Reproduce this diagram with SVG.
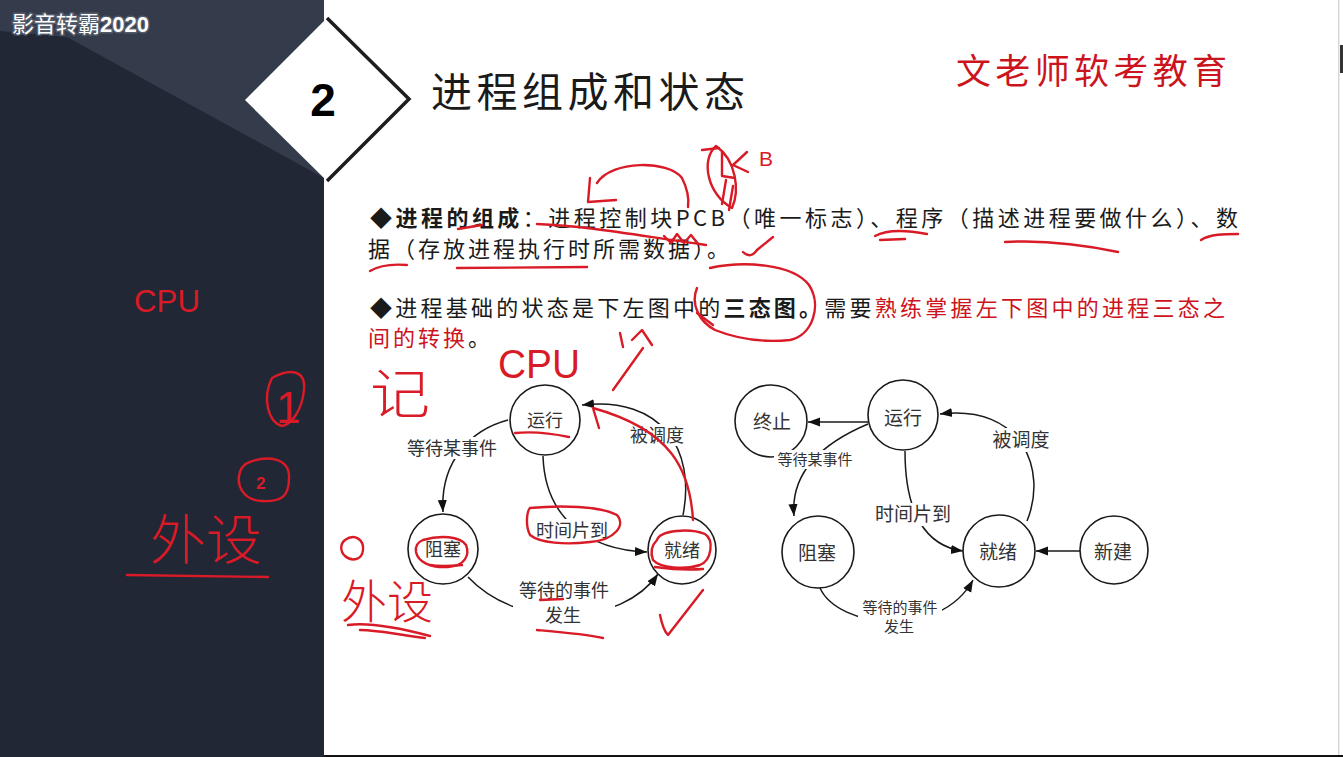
<svg xmlns="http://www.w3.org/2000/svg" width="1343" height="757" viewBox="0 0 1343 757">
  <style>
    .cjk { font-family: "Noto Sans CJK SC", "Liberation Sans", sans-serif; }
    .body { font-size: 22px; fill: #1a1a1a; }
    .red { fill: #cc141d; }
    .node circle { fill: #ffffff; stroke: #1a1a1a; stroke-width: 1.6; }
    .node text { font-family: "Noto Sans CJK SC", "Liberation Serif", serif; fill: #333333; text-anchor: middle; }
    .edge { fill: none; stroke: #1a1a1a; stroke-width: 1.5; marker-end: url(#ah); }
    .lbl { font-family: "Noto Sans CJK SC", "Liberation Serif", serif; fill: #333333; text-anchor: middle; }
    .lblbg { fill: #ffffff; }
    .ink { fill: none; stroke: #d81b26; stroke-width: 2.4; stroke-linecap: round; stroke-linejoin: round; }
    .inktext { fill: #d81b26; font-family: "Liberation Sans", "Noto Sans CJK SC", sans-serif; }
    .inkcjk { fill: #d81b26; font-family: "Noto Sans CJK SC", sans-serif; font-weight: 300; }
  </style>
  <defs>
    <marker id="ah" viewBox="0 0 10 10" refX="10" refY="5" markerWidth="12" markerHeight="12" markerUnits="userSpaceOnUse" orient="auto">
      <path d="M0,1.2 L10,5 L0,8.8 Z" fill="#111111"/>
    </marker>
  </defs>

  <!-- slide background -->
  <rect x="0" y="0" width="1343" height="757" fill="#ffffff"/>
  <rect x="1338" y="0" width="1.5" height="757" fill="#d8d8d8"/>
  <rect x="1340" y="45" width="3" height="28" fill="#333333"/>
  <rect x="324" y="755" width="1019" height="2" fill="#111111"/>

  <!-- dark side panel -->
  <g id="side-panel">
    <rect x="0" y="0" width="324" height="757" fill="#222735"/>
    <polygon points="0,0 324,0 324,178 67,37 0,31" fill="#343c4c"/>
    <text x="12" y="32" font-size="22" fill="#ffffff" stroke="#7a808c" stroke-width="3" stroke-opacity="0.45" paint-order="stroke" font-family="Noto Sans CJK SC, sans-serif">影音转霸<tspan font-family="Liberation Sans, sans-serif" font-weight="bold">2020</tspan></text>
  </g>

  <!-- section badge -->
  <g id="badge">
    <polygon points="245,100 327,18 409,99 327,181" fill="#ffffff"/>
    <polyline points="327,18 409,99 327,181" fill="none" stroke="#1e1e1e" stroke-width="3.5"/>
    <text x="323" y="116" font-size="46" font-weight="bold" text-anchor="middle" fill="#000000" font-family="Liberation Sans, sans-serif">2</text>
  </g>

  <!-- headings -->
  <text class="cjk" x="431" y="107" font-size="41" fill="#1a1a1a" textLength="314" lengthAdjust="spacing">进程组成和状态</text>
  <text class="cjk red" x="956" y="84" font-size="35" fill="#d8141c" textLength="271" lengthAdjust="spacing">文老师软考教育</text>

  <!-- body text -->
  <text class="cjk body" x="370" y="226" textLength="868" lengthAdjust="spacing">◆<tspan font-weight="bold">进程的组成</tspan>：进程控制块PCB（唯一标志）、程序（描述进程要做什么）、数</text>
  <text class="cjk body" x="368" y="257" letter-spacing="3">据（存放进程执行时所需数据）。</text>
  <text class="cjk body" x="370" y="316" textLength="855" lengthAdjust="spacing">◆进程基础的状态是下左图中的<tspan font-weight="bold">三态图。</tspan>需要<tspan class="red">熟练掌握左下图中的进程三态之</tspan></text>
  <text class="cjk body" x="368" y="346" letter-spacing="3"><tspan class="red">间的转换</tspan>。</text>

  <!-- three-state diagram: connectors -->
  <g id="edges-three-state">
    <path class="edge" d="M508,420 C470,430 440,462 443,512"/>
    <path class="edge" d="M543,456 C545,520 590,550 647,552"/>
    <path class="edge" d="M683,515 C696,450 662,396 582,405"/>
    <path class="edge" d="M468,577 C520,632 622,626 658,574"/>
    <rect class="lblbg" x="402" y="437" width="100" height="22"/>
    <text class="lbl" x="452" y="455" font-size="18">等待某事件</text>
    <rect class="lblbg" x="626" y="424" width="62" height="22"/>
    <text class="lbl" x="657" y="442" font-size="18">被调度</text>
    <rect class="lblbg" x="531" y="519" width="82" height="22"/>
    <text class="lbl" x="572" y="537" font-size="18">时间片到</text>
    <rect class="lblbg" x="513" y="579" width="102" height="48"/>
    <text class="lbl" x="564" y="597" font-size="18">等待的事件</text>
    <text class="lbl" x="563" y="622" font-size="18">发生</text>
  </g>

  <!-- three-state diagram: nodes -->
  <g id="l-running" class="node"><circle cx="545" cy="420" r="35"/><text x="545" y="427" font-size="18">运行</text></g>
  <g id="l-blocked" class="node"><circle cx="443" cy="549" r="35"/><text x="443" y="556" font-size="18">阻塞</text></g>
  <g id="l-ready" class="node"><circle cx="682" cy="550" r="34"/><text x="682" y="557" font-size="18">就绪</text></g>

  <!-- five-state diagram: connectors -->
  <g id="edges-five-state">
    <path class="edge" d="M868,422 L808,422"/>
    <path class="edge" d="M868,424 C830,440 790,468 794,516"/>
    <path class="edge" d="M905,451 C905,512 925,546 963,551"/>
    <path class="edge" d="M1027,521 C1048,470 1022,404 940,414"/>
    <path class="edge" d="M820,588 C838,628 940,640 973,580"/>
    <path class="edge" d="M1080,551 L1036,551"/>
  </g>

  <!-- five-state diagram: nodes -->
  <g id="r-terminated" class="node"><circle cx="771" cy="421" r="36"/><text x="772" y="429" font-size="19">终止</text></g>
  <g id="r-running" class="node"><circle cx="903" cy="415" r="35"/><text x="903" y="425" font-size="19">运行</text></g>
  <g id="r-blocked" class="node"><circle cx="818" cy="552" r="36"/><text x="817" y="560" font-size="19">阻塞</text></g>
  <g id="r-ready" class="node"><circle cx="999" cy="551" r="36"/><text x="998" y="559" font-size="19">就绪</text></g>
  <g id="r-new" class="node"><circle cx="1114" cy="550" r="34"/><text x="1113" y="559" font-size="19">新建</text></g>

  <!-- five-state diagram: edge labels -->
  <g id="labels-five-state">
    <rect class="lblbg" x="774" y="450" width="82" height="19"/>
    <text class="lbl" x="815" y="465" font-size="15">等待某事件</text>
    <rect class="lblbg" x="872" y="503" width="82" height="23"/>
    <text class="lbl" x="913" y="521" font-size="19">时间片到</text>
    <rect class="lblbg" x="990" y="428" width="62" height="24"/>
    <text class="lbl" x="1021" y="447" font-size="19">被调度</text>
    <rect class="lblbg" x="858" y="598" width="84" height="38"/>
    <text class="lbl" x="900" y="613" font-size="15">等待的事件</text>
    <text class="lbl" x="899" y="632" font-size="15">发生</text>
  </g>

  <!-- pen notes -->
  <g id="pen-notes">
    <!-- side panel -->
    <text class="inktext" x="134" y="312" font-size="32" textLength="66" lengthAdjust="spacingAndGlyphs">CPU</text>
    <path class="ink" d="M272,378 C290,368 306,370 304,390 C302,410 292,424 282,426 C268,422 262,398 272,378 Z"/>
    <text class="inktext" x="276" y="423" font-size="44">1</text>
    <path class="ink" d="M250,462 C268,455 290,458 289,478 C289,496 282,502 262,501 C242,500 236,484 240,472 C242,466 246,463 250,462"/>
    <text class="inktext" x="256" y="489" font-size="17" font-weight="bold">2</text>
    <text class="inkcjk" x="150" y="560" font-size="54" textLength="112" lengthAdjust="spacingAndGlyphs">外设</text>
    <path class="ink" d="M127,575 L268,577"/>

    <!-- text underlines and marks -->
    <path class="ink" d="M458,229 L482,225"/>
    <path class="ink" d="M537,224 C590,226 640,236 706,245"/>
    <path class="ink" d="M664,236 L671,243 L677,234 L684,243 L691,235 L698,244"/>
    <path class="ink" d="M597,183 C612,160 668,160 682,178 C688,190 689,200 688,207"/>
    <path class="ink" d="M590,178 L588,202 L616,200"/>
    <path class="ink" d="M716,146 C700,160 708,195 732,208 C740,190 736,160 716,146 Z"/>
    <path class="ink" d="M702,150 L719,148 M722,152 L722,176 L735,178 M726,180 L722,204 M733,186 L729,210"/>
    <path class="ink" d="M747,152 L733,165 L748,172"/>
    <text class="inktext" x="759" y="166" font-size="21">B</text>
    <path class="ink" d="M743,252 C748,257 753,256 757,250 L773,237"/>
    <path class="ink" d="M875,236 C886,230 906,230 927,234 M880,240 L905,239"/>
    <path class="ink" d="M1005,242 C1040,240 1080,244 1118,252"/>
    <path class="ink" d="M1201,240 C1210,234 1225,234 1238,234"/>
    <path class="ink" d="M370,271 C380,265 395,264 407,265"/>
    <path class="ink" d="M457,268 L587,267"/>
    <path class="ink" d="M710,268 C742,261 792,263 809,285 C822,305 813,335 790,340 C760,343 735,338 715,330 C700,322 690,305 697,288"/>
    <path class="ink" d="M697,313 L713,325"/>
    <path class="ink" d="M620,333 L623,347 M632,340 L642,330 L652,345 M613,390 L643,348"/>

    <!-- state diagram marks -->
    <text class="inktext" x="498" y="378" font-size="40" textLength="82" lengthAdjust="spacingAndGlyphs">CPU</text>
    <text class="inkcjk" x="370" y="414" font-size="54" textLength="60" lengthAdjust="spacingAndGlyphs">记</text>
    <path class="ink" d="M515,433 C535,431 555,434 569,437"/>
    <path class="ink" d="M693,520 C690,470 672,430 593,408 M593,408 L599,428"/>
    <path class="ink" d="M530,508 C560,505 600,506 617,515 C626,525 615,540 590,542 C565,545 540,543 530,535 C525,525 527,511 530,508"/>
    <path class="ink" d="M657,540 C660,530 690,528 705,534 C714,540 712,560 700,565 C685,570 660,568 653,560 C650,552 652,545 657,540"/>
    <path class="ink" d="M655,567 C670,569 690,570 703,569"/>
    <path class="ink" d="M423,540 C440,535 460,536 466,545 C470,555 465,566 448,567 C430,568 418,562 416,552 C415,546 418,542 423,540"/>
    <path class="ink" d="M430,565 C440,567 452,566 462,565"/>
    <path class="ink" d="M345,540 C355,533 364,540 363,550 C362,560 352,562 345,556 C340,551 340,544 345,540"/>
    <text class="inkcjk" x="341" y="618" font-size="46" textLength="92" lengthAdjust="spacingAndGlyphs">外设</text>
    <path class="ink" d="M348,625 C370,622 400,628 430,636 M360,630 C380,630 405,636 425,638"/>
    <path class="ink" d="M540,600 L563,599"/>
    <path class="ink" d="M537,630 C560,632 585,634 603,638"/>
    <path class="ink" d="M660,615 C662,625 665,632 668,635 L703,590"/>
  </g>
</svg>
